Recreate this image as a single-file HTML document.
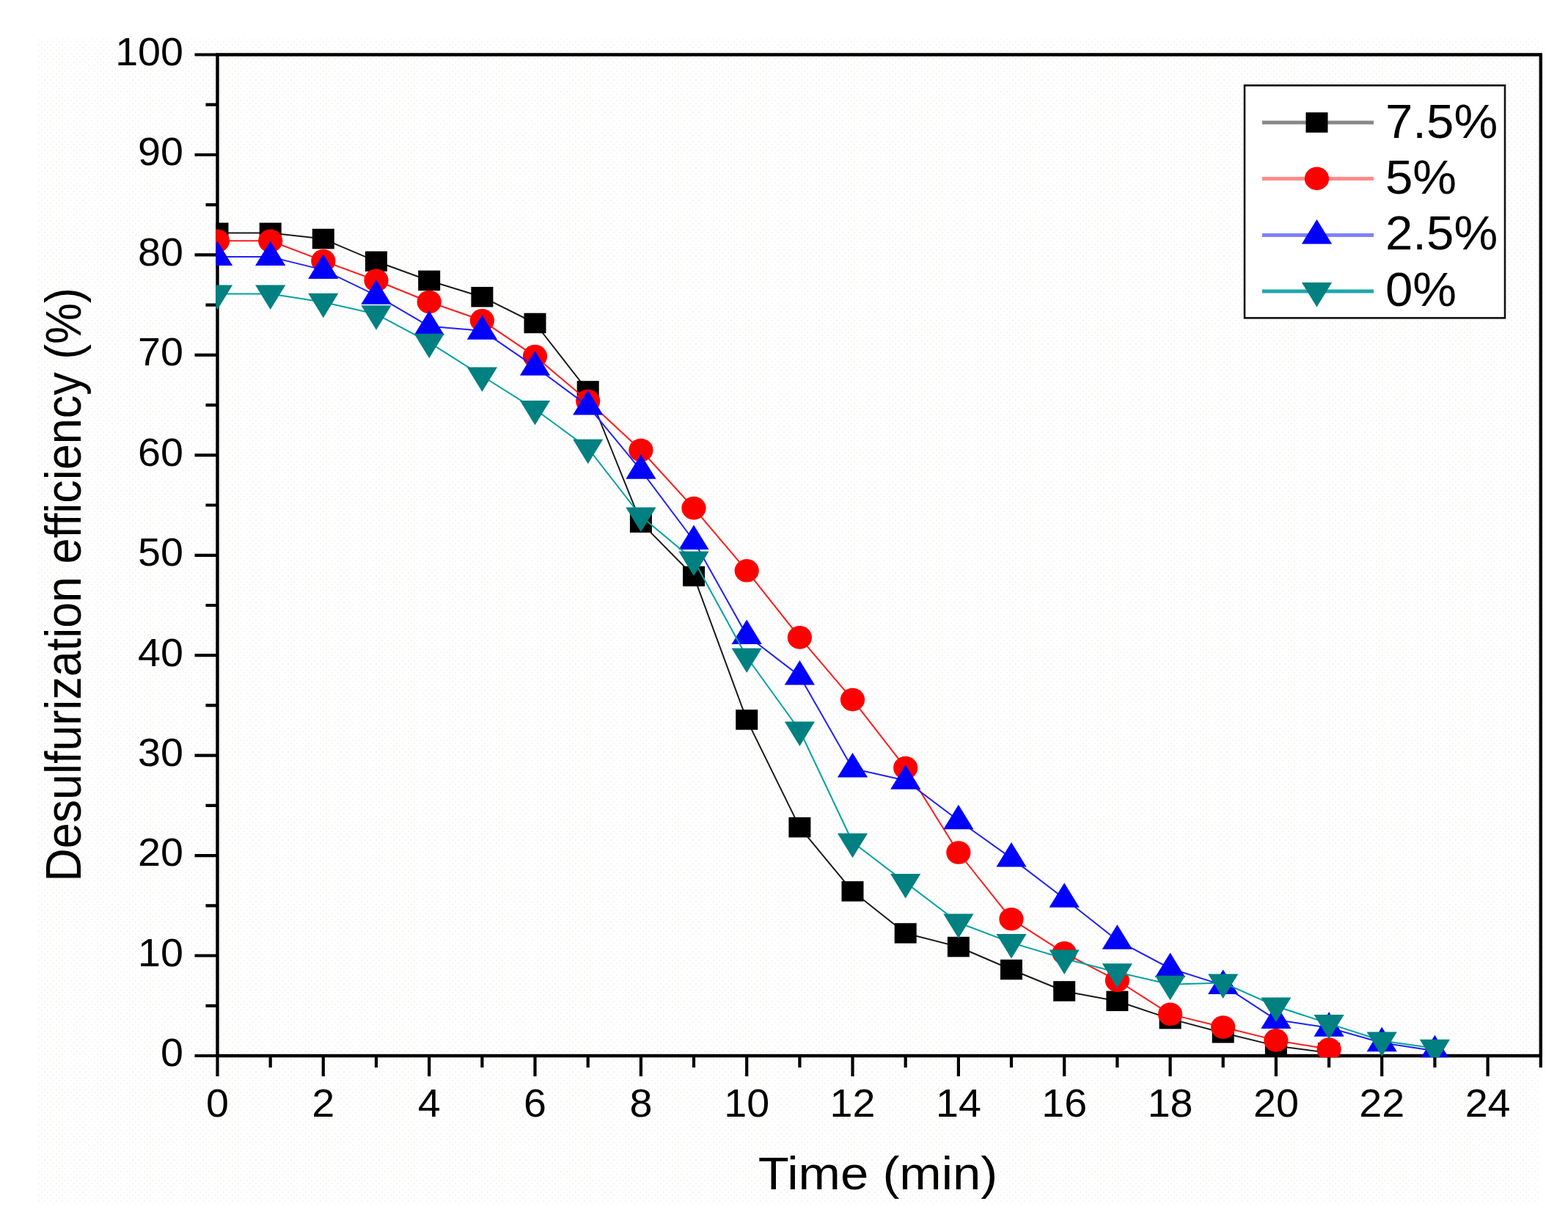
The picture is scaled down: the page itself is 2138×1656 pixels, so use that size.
<!DOCTYPE html><html><head><meta charset="utf-8"><title>Desulfurization efficiency vs time</title>
<style>html,body{margin:0;padding:0;background:#fff;width:2138px;height:1656px;overflow:hidden}svg{display:block}text{font-family:"Liberation Sans", Arial, Helvetica, sans-serif;fill:#000}</style></head><body>
<svg width="2138" height="1656" viewBox="0 0 2138 1656">
<defs><clipPath id="pa"><rect x="294.3" y="72.3" width="1808.7" height="1368.9"/></clipPath><pattern id="dots" width="8" height="8" patternUnits="userSpaceOnUse"><rect x="0" y="0" width="2" height="2" fill="#f4f4f9"/><rect x="4" y="4" width="2" height="2" fill="#f5f5ee"/></pattern></defs>
<rect x="51" y="53" width="2047" height="1588" fill="url(#dots)"/>
<g stroke="#000" stroke-width="4.4" fill="none" stroke-linecap="square">
<path d="M296.5 74.5H2100.8V1439H296.5Z"/>
</g>
<path d="M265.5 1439H296.5M280.5 1370.8H296.5M265.5 1302.5H296.5M280.5 1234.3H296.5M265.5 1166.1H296.5M280.5 1097.9H296.5M265.5 1029.7H296.5M280.5 961.4H296.5M265.5 893.2H296.5M280.5 825H296.5M265.5 756.8H296.5M280.5 688.5H296.5M265.5 620.3H296.5M280.5 552.1H296.5M265.5 483.9H296.5M280.5 415.6H296.5M265.5 347.4H296.5M280.5 279.2H296.5M265.5 211H296.5M280.5 142.7H296.5M265.5 74.5H296.5M296.5 1439V1467M368.7 1439V1455M440.8 1439V1467M513 1439V1455M585.2 1439V1467M657.4 1439V1455M729.5 1439V1467M801.7 1439V1455M873.9 1439V1467M946 1439V1455M1018.2 1439V1467M1090.4 1439V1455M1162.5 1439V1467M1234.7 1439V1455M1306.9 1439V1467M1379 1439V1455M1451.2 1439V1467M1523.4 1439V1455M1595.6 1439V1467M1667.7 1439V1455M1739.9 1439V1467M1812.1 1439V1455M1884.2 1439V1467M1956.4 1439V1455M2028.6 1439V1467M2100.8 1439V1455" stroke="#000" stroke-width="4.2" fill="none"/>
<g clip-path="url(#pa)">
<polyline points="296.5,317.4 368.7,317.4 440.8,325.6 513,356.3 585.2,382.5 657.4,404.7 729.5,440.5 801.7,533 873.9,712.1 946,785.4 1018.2,980.9 1090.4,1127.6 1162.5,1214.8 1234.7,1272 1306.9,1290.5 1379,1321.5 1451.2,1351 1523.4,1364.4 1595.6,1388.6 1667.7,1407.8 1739.9,1425.4 1812.1,1434.9" fill="none" stroke="#1a1a1a" stroke-width="2" stroke-linejoin="round"/>
<rect x="281.5" y="303.6" width="30" height="27.5" fill="#000000"/>
<rect x="353.7" y="303.6" width="30" height="27.5" fill="#000000"/>
<rect x="425.8" y="311.8" width="30" height="27.5" fill="#000000"/>
<rect x="498" y="342.5" width="30" height="27.5" fill="#000000"/>
<rect x="570.2" y="368.7" width="30" height="27.5" fill="#000000"/>
<rect x="642.4" y="391" width="30" height="27.5" fill="#000000"/>
<rect x="714.5" y="426.7" width="30" height="27.5" fill="#000000"/>
<rect x="786.7" y="519.2" width="30" height="27.5" fill="#000000"/>
<rect x="858.9" y="698.4" width="30" height="27.5" fill="#000000"/>
<rect x="931" y="771.7" width="30" height="27.5" fill="#000000"/>
<rect x="1003.2" y="967.2" width="30" height="27.5" fill="#000000"/>
<rect x="1075.4" y="1113.9" width="30" height="27.5" fill="#000000"/>
<rect x="1147.5" y="1201.1" width="30" height="27.5" fill="#000000"/>
<rect x="1219.7" y="1258.2" width="30" height="27.5" fill="#000000"/>
<rect x="1291.9" y="1276.8" width="30" height="27.5" fill="#000000"/>
<rect x="1364" y="1307.8" width="30" height="27.5" fill="#000000"/>
<rect x="1436.2" y="1337.2" width="30" height="27.5" fill="#000000"/>
<rect x="1508.4" y="1350.6" width="30" height="27.5" fill="#000000"/>
<rect x="1580.6" y="1374.9" width="30" height="27.5" fill="#000000"/>
<rect x="1652.7" y="1394" width="30" height="27.5" fill="#000000"/>
<rect x="1724.9" y="1411.6" width="30" height="27.5" fill="#000000"/>
<rect x="1797.1" y="1421.2" width="30" height="27.5" fill="#000000"/>
<polyline points="296.5,328.3 368.7,328.3 440.8,355.6 513,382.2 585.2,411.5 657.4,436.8 729.5,485.6 801.7,546.6 873.9,613.5 946,692.6 1018.2,777.8 1090.4,868.9 1162.5,953.6 1234.7,1046.6 1306.9,1162 1379,1252.7 1451.2,1298.9 1523.4,1336.3 1595.6,1382.4 1667.7,1400 1739.9,1417.9 1812.1,1430.1" fill="none" stroke="#ff1a1a" stroke-width="2" stroke-linejoin="round"/>
<ellipse cx="296.5" cy="328.3" rx="16.6" ry="15.8" fill="#ff0000"/>
<ellipse cx="368.7" cy="328.3" rx="16.6" ry="15.8" fill="#ff0000"/>
<ellipse cx="440.8" cy="355.6" rx="16.6" ry="15.8" fill="#ff0000"/>
<ellipse cx="513" cy="382.2" rx="16.6" ry="15.8" fill="#ff0000"/>
<ellipse cx="585.2" cy="411.5" rx="16.6" ry="15.8" fill="#ff0000"/>
<ellipse cx="657.4" cy="436.8" rx="16.6" ry="15.8" fill="#ff0000"/>
<ellipse cx="729.5" cy="485.6" rx="16.6" ry="15.8" fill="#ff0000"/>
<ellipse cx="801.7" cy="546.6" rx="16.6" ry="15.8" fill="#ff0000"/>
<ellipse cx="873.9" cy="613.5" rx="16.6" ry="15.8" fill="#ff0000"/>
<ellipse cx="946" cy="692.6" rx="16.6" ry="15.8" fill="#ff0000"/>
<ellipse cx="1018.2" cy="777.8" rx="16.6" ry="15.8" fill="#ff0000"/>
<ellipse cx="1090.4" cy="868.9" rx="16.6" ry="15.8" fill="#ff0000"/>
<ellipse cx="1162.5" cy="953.6" rx="16.6" ry="15.8" fill="#ff0000"/>
<ellipse cx="1234.7" cy="1046.6" rx="16.6" ry="15.8" fill="#ff0000"/>
<ellipse cx="1306.9" cy="1162" rx="16.6" ry="15.8" fill="#ff0000"/>
<ellipse cx="1379" cy="1252.7" rx="16.6" ry="15.8" fill="#ff0000"/>
<ellipse cx="1451.2" cy="1298.9" rx="16.6" ry="15.8" fill="#ff0000"/>
<ellipse cx="1523.4" cy="1336.3" rx="16.6" ry="15.8" fill="#ff0000"/>
<ellipse cx="1595.6" cy="1382.4" rx="16.6" ry="15.8" fill="#ff0000"/>
<ellipse cx="1667.7" cy="1400" rx="16.6" ry="15.8" fill="#ff0000"/>
<ellipse cx="1739.9" cy="1417.9" rx="16.6" ry="15.8" fill="#ff0000"/>
<ellipse cx="1812.1" cy="1430.1" rx="16.6" ry="15.8" fill="#ff0000"/>
<polyline points="296.5,350.1 368.7,350.1 440.8,367.9 513,402.7 585.2,444.8 657.4,450.7 729.5,499.8 801.7,553.4 873.9,640.8 946,737 1018.2,866 1090.4,921.4 1162.5,1047.5 1234.7,1063.8 1306.9,1118.3 1379,1169.6 1451.2,1224.8 1523.4,1281.7 1595.6,1320 1667.7,1342.9 1739.9,1389.9 1812.1,1400.8 1884.2,1421.3 1956.4,1432.2" fill="none" stroke="#2020ff" stroke-width="2" stroke-linejoin="round"/>
<path d="M296.5 328.6L317.1 362.1L275.9 362.1Z" fill="#0000ff"/>
<path d="M368.7 328.6L389.3 362.1L348.1 362.1Z" fill="#0000ff"/>
<path d="M440.8 346.4L461.4 379.9L420.2 379.9Z" fill="#0000ff"/>
<path d="M513 381.2L533.6 414.7L492.4 414.7Z" fill="#0000ff"/>
<path d="M585.2 423.3L605.8 456.8L564.6 456.8Z" fill="#0000ff"/>
<path d="M657.4 429.2L678 462.7L636.8 462.7Z" fill="#0000ff"/>
<path d="M729.5 478.3L750.1 511.8L708.9 511.8Z" fill="#0000ff"/>
<path d="M801.7 531.9L822.3 565.4L781.1 565.4Z" fill="#0000ff"/>
<path d="M873.9 619.3L894.5 652.8L853.3 652.8Z" fill="#0000ff"/>
<path d="M946 715.5L966.6 749L925.4 749Z" fill="#0000ff"/>
<path d="M1018.2 844.5L1038.8 878L997.6 878Z" fill="#0000ff"/>
<path d="M1090.4 899.9L1111 933.4L1069.8 933.4Z" fill="#0000ff"/>
<path d="M1162.5 1026L1183.1 1059.5L1141.9 1059.5Z" fill="#0000ff"/>
<path d="M1234.7 1042.3L1255.3 1075.8L1214.1 1075.8Z" fill="#0000ff"/>
<path d="M1306.9 1096.8L1327.5 1130.3L1286.3 1130.3Z" fill="#0000ff"/>
<path d="M1379 1148.1L1399.6 1181.6L1358.5 1181.6Z" fill="#0000ff"/>
<path d="M1451.2 1203.3L1471.8 1236.8L1430.6 1236.8Z" fill="#0000ff"/>
<path d="M1523.4 1260.2L1544 1293.7L1502.8 1293.7Z" fill="#0000ff"/>
<path d="M1595.6 1298.5L1616.2 1332L1575 1332Z" fill="#0000ff"/>
<path d="M1667.7 1321.4L1688.3 1354.9L1647.1 1354.9Z" fill="#0000ff"/>
<path d="M1739.9 1368.4L1760.5 1401.9L1719.3 1401.9Z" fill="#0000ff"/>
<path d="M1812.1 1379.3L1832.7 1412.8L1791.5 1412.8Z" fill="#0000ff"/>
<path d="M1884.2 1399.8L1904.8 1433.3L1863.6 1433.3Z" fill="#0000ff"/>
<path d="M1956.4 1410.7L1977 1444.2L1935.8 1444.2Z" fill="#0000ff"/>
<polyline points="296.5,400.6 368.7,400.6 440.8,411.8 513,428.2 585.2,466.7 657.4,512.5 729.5,557.9 801.7,610.7 873.9,703.5 946,763.6 1018.2,895.5 1090.4,995.5 1162.5,1147.7 1234.7,1202.9 1306.9,1257.5 1379,1284.9 1451.2,1306.5 1523.4,1325.2 1595.6,1341.8 1667.7,1339.4 1739.9,1371.5 1812.1,1395.1 1884.2,1418.5 1956.4,1428.8" fill="none" stroke="#00a2a2" stroke-width="2" stroke-linejoin="round"/>
<path d="M275.9 388.6L317.1 388.6L296.5 422.1Z" fill="#008080"/>
<path d="M348.1 388.6L389.3 388.6L368.7 422.1Z" fill="#008080"/>
<path d="M420.2 399.8L461.4 399.8L440.8 433.3Z" fill="#008080"/>
<path d="M492.4 416.2L533.6 416.2L513 449.7Z" fill="#008080"/>
<path d="M564.6 454.7L605.8 454.7L585.2 488.2Z" fill="#008080"/>
<path d="M636.8 500.5L678 500.5L657.4 534Z" fill="#008080"/>
<path d="M708.9 545.9L750.1 545.9L729.5 579.4Z" fill="#008080"/>
<path d="M781.1 598.7L822.3 598.7L801.7 632.2Z" fill="#008080"/>
<path d="M853.3 691.5L894.5 691.5L873.9 725Z" fill="#008080"/>
<path d="M925.4 751.6L966.6 751.6L946 785.1Z" fill="#008080"/>
<path d="M997.6 883.5L1038.8 883.5L1018.2 917Z" fill="#008080"/>
<path d="M1069.8 983.5L1111 983.5L1090.4 1017Z" fill="#008080"/>
<path d="M1141.9 1135.7L1183.1 1135.7L1162.5 1169.2Z" fill="#008080"/>
<path d="M1214.1 1190.9L1255.3 1190.9L1234.7 1224.4Z" fill="#008080"/>
<path d="M1286.3 1245.5L1327.5 1245.5L1306.9 1279Z" fill="#008080"/>
<path d="M1358.5 1272.9L1399.6 1272.9L1379 1306.4Z" fill="#008080"/>
<path d="M1430.6 1294.5L1471.8 1294.5L1451.2 1328Z" fill="#008080"/>
<path d="M1502.8 1313.2L1544 1313.2L1523.4 1346.7Z" fill="#008080"/>
<path d="M1575 1329.8L1616.2 1329.8L1595.6 1363.3Z" fill="#008080"/>
<path d="M1647.1 1327.4L1688.3 1327.4L1667.7 1360.9Z" fill="#008080"/>
<path d="M1719.3 1359.5L1760.5 1359.5L1739.9 1393Z" fill="#008080"/>
<path d="M1791.5 1383.1L1832.7 1383.1L1812.1 1416.6Z" fill="#008080"/>
<path d="M1863.6 1406.5L1904.8 1406.5L1884.2 1440Z" fill="#008080"/>
<path d="M1935.8 1416.8L1977 1416.8L1956.4 1450.3Z" fill="#008080"/>
</g>
<text transform="translate(250 1453.3) scale(1.05 1)" font-size="53" text-anchor="end">0</text>
<text transform="translate(250 1316.8) scale(1.05 1)" font-size="53" text-anchor="end">10</text>
<text transform="translate(250 1180.4) scale(1.05 1)" font-size="53" text-anchor="end">20</text>
<text transform="translate(250 1044) scale(1.05 1)" font-size="53" text-anchor="end">30</text>
<text transform="translate(250 907.5) scale(1.05 1)" font-size="53" text-anchor="end">40</text>
<text transform="translate(250 771) scale(1.05 1)" font-size="53" text-anchor="end">50</text>
<text transform="translate(250 634.6) scale(1.05 1)" font-size="53" text-anchor="end">60</text>
<text transform="translate(250 498.2) scale(1.05 1)" font-size="53" text-anchor="end">70</text>
<text transform="translate(250 361.7) scale(1.05 1)" font-size="53" text-anchor="end">80</text>
<text transform="translate(250 225.3) scale(1.05 1)" font-size="53" text-anchor="end">90</text>
<text transform="translate(250 88.8) scale(1.05 1)" font-size="53" text-anchor="end">100</text>
<text transform="translate(296.5 1522) scale(1.05 1)" font-size="53" text-anchor="middle">0</text>
<text transform="translate(440.8 1522) scale(1.05 1)" font-size="53" text-anchor="middle">2</text>
<text transform="translate(585.2 1522) scale(1.05 1)" font-size="53" text-anchor="middle">4</text>
<text transform="translate(729.5 1522) scale(1.05 1)" font-size="53" text-anchor="middle">6</text>
<text transform="translate(873.9 1522) scale(1.05 1)" font-size="53" text-anchor="middle">8</text>
<text transform="translate(1018.2 1522) scale(1.05 1)" font-size="53" text-anchor="middle">10</text>
<text transform="translate(1162.5 1522) scale(1.05 1)" font-size="53" text-anchor="middle">12</text>
<text transform="translate(1306.9 1522) scale(1.05 1)" font-size="53" text-anchor="middle">14</text>
<text transform="translate(1451.2 1522) scale(1.05 1)" font-size="53" text-anchor="middle">16</text>
<text transform="translate(1595.6 1522) scale(1.05 1)" font-size="53" text-anchor="middle">18</text>
<text transform="translate(1739.9 1522) scale(1.05 1)" font-size="53" text-anchor="middle">20</text>
<text transform="translate(1884.2 1522) scale(1.05 1)" font-size="53" text-anchor="middle">22</text>
<text transform="translate(2028.6 1522) scale(1.05 1)" font-size="53" text-anchor="middle">24</text>
<text transform="translate(1197 1620.5) scale(1.085 1)" font-size="63.5" text-anchor="middle">Time (min)</text>
<text transform="translate(110 797) scale(1.08 1) rotate(-90)" font-size="62.9" text-anchor="middle">Desulfurization efficiency (%)</text>
<rect x="1697" y="116.4" width="355" height="317" fill="#fff" stroke="#111" stroke-width="2.6"/>
<path d="M1721 166.9H1873" stroke="#888888" stroke-width="5"/>
<rect x="1780.5" y="153.2" width="30" height="27.5" fill="#000000"/>
<text transform="translate(1889 187.5) scale(1.05 1)" font-size="64">7.5%</text>
<path d="M1721 243.4H1873" stroke="#ff8a8a" stroke-width="5"/>
<ellipse cx="1795.5" cy="243.4" rx="16.6" ry="15.8" fill="#ff0000"/>
<text transform="translate(1889 264.3) scale(1.05 1)" font-size="64">5%</text>
<path d="M1721 320.4H1873" stroke="#8080ff" stroke-width="5"/>
<path d="M1795.5 298.9L1816.1 332.4L1774.9 332.4Z" fill="#0000ff"/>
<text transform="translate(1889 340.4) scale(1.05 1)" font-size="64">2.5%</text>
<path d="M1721 397H1873" stroke="#20a8a8" stroke-width="5"/>
<path d="M1774.9 385L1816.1 385L1795.5 418.5Z" fill="#008080"/>
<text transform="translate(1889 417) scale(1.05 1)" font-size="64">0%</text>
</svg></body></html>
